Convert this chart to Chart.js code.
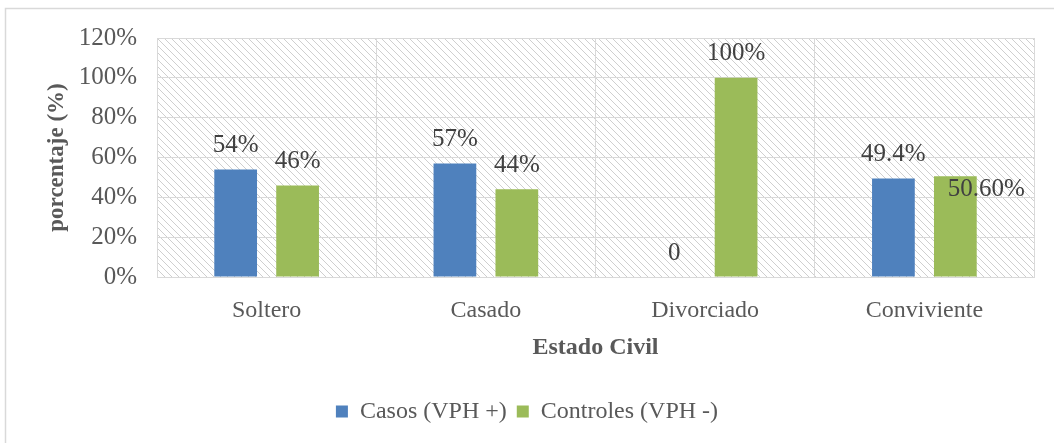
<title>Estado Civil</title>
<script src=https://cdn.jsdelivr.net/npm/chart.js@4.4.0/dist/chart.umd.min.js></script>
<style>body{margin:0;background:#fff}</style>
<canvas id="myChart" width="1054" height="443"></canvas>
<script>
var categories = ['Soltero', 'Casado', 'Divorciado', 'Conviviente'];
var casos = [54, 57, 0, 49.4];
var controles = [46, 44, 100, 50.6];
var casosLabels = ['54%', '57%', '0', '49.4%'];
var controlesLabels = ['46%', '44%', '100%', '50.60%'];
var yTicks = ['0%', '20%', '40%', '60%', '80%', '100%', '120%'];

var serif = "'Liberation Serif', 'Times New Roman', serif";
Chart.defaults.font.family = serif;
Chart.defaults.color = '#595959';

// diagonal hatch tile for the plot area
var tile = document.createElement('canvas');
tile.width = 7; tile.height = 7;
var tc = tile.getContext('2d');
tc.strokeStyle = '#cfcfcf';
tc.lineWidth = 1;
tc.beginPath();
tc.moveTo(-1, -1); tc.lineTo(8, 8);
tc.moveTo(-1, 6); tc.lineTo(1, 8);
tc.moveTo(6, -1); tc.lineTo(8, 1);
tc.stroke();

var background = {
  id: 'background',
  beforeDraw: function(chart){
    var c = chart.ctx, a = chart.chartArea;
    c.save();
    c.fillStyle = '#fff';
    c.fillRect(0, 0, chart.width, chart.height);
    c.strokeStyle = '#d9d9d9';
    c.lineWidth = 1.5;
    c.strokeRect(5.5, 8.5, chart.width + 10, chart.height + 10);
    c.fillStyle = c.createPattern(tile, 'repeat');
    c.fillRect(a.left, a.top, a.right - a.left, a.bottom - a.top);
    c.restore();
  }
};

var barLabels = {
  id: 'barLabels',
  afterDatasetsDraw: function(chart){
    var c = chart.ctx;
    var texts = [casosLabels, controlesLabels];
    c.save();
    c.font = '25px ' + serif;
    c.fillStyle = '#404040';
    c.textAlign = 'center';
    c.textBaseline = 'middle';
    chart.data.datasets.forEach(function(ds, d){
      chart.getDatasetMeta(d).data.forEach(function(bar, i){
        var dx = 0, dy = 0;
        if (d == 1 && i == 3) { dx = 31; dy = 37; } // label moved by hand in the original
        c.fillText(texts[d][i], bar.x + dx, bar.y - 24 + dy);
      });
    });
    c.restore();
  }
};

var ctx = document.getElementById('myChart');
var myChart = new Chart(ctx, {
  type: 'bar',
  data: {
    labels: categories,
    datasets: [
      {label: 'Casos (VPH +)', data: casos, backgroundColor: '#4F81BD',
        categoryPercentage: 0.565, barPercentage: 0.69},
      {label: 'Controles (VPH -)', data: controles, backgroundColor: '#9BBB59',
        categoryPercentage: 0.565, barPercentage: 0.69}
    ]
  },
  plugins: [background, barLabels],
  options: {
    responsive: false,
    animation: false,
    layout: {padding: {left: 0, right: 0, top: 38, bottom: 9.5}},
    plugins: {
      tooltip: {enabled: false},
      legend: {
        position: 'bottom',
        labels: {boxWidth: 12, boxHeight: 12, padding: 10, color: '#595959',
          font: {size: 24, family: serif}}
      }
    },
    scales: {
      x: {
        grid: {color: '#d9d9d9', drawTicks: false},
        border: {color: '#d9d9d9'},
        ticks: {padding: 19, color: '#595959', font: {size: 24}},
        title: {display: true, text: 'Estado Civil', color: '#595959',
          font: {size: 24, weight: 'bold'}, padding: {top: 0, bottom: 27.5}},
        afterFit: function(s){ s.height = 112.5; }
      },
      y: {
        min: 0, max: 120,
        grid: {color: '#d9d9d9', drawTicks: false},
        border: {color: '#d9d9d9'},
        ticks: {stepSize: 20, padding: 20, color: '#595959', font: {size: 25},
          callback: function(v){ return yTicks[v / 20]; }},
        title: {display: true, text: 'porcentaje (%)', color: '#595959',
          font: {size: 23, weight: 'bold'}, padding: {top: 43, bottom: 0}},
        afterFit: function(s){ s.width = 157; }
      },
      pad: {
        position: 'right', display: true,
        grid: {display: false}, border: {display: false},
        ticks: {display: false},
        afterFit: function(s){ s.width = 20; }
      }
    }
  }
});
</script>
